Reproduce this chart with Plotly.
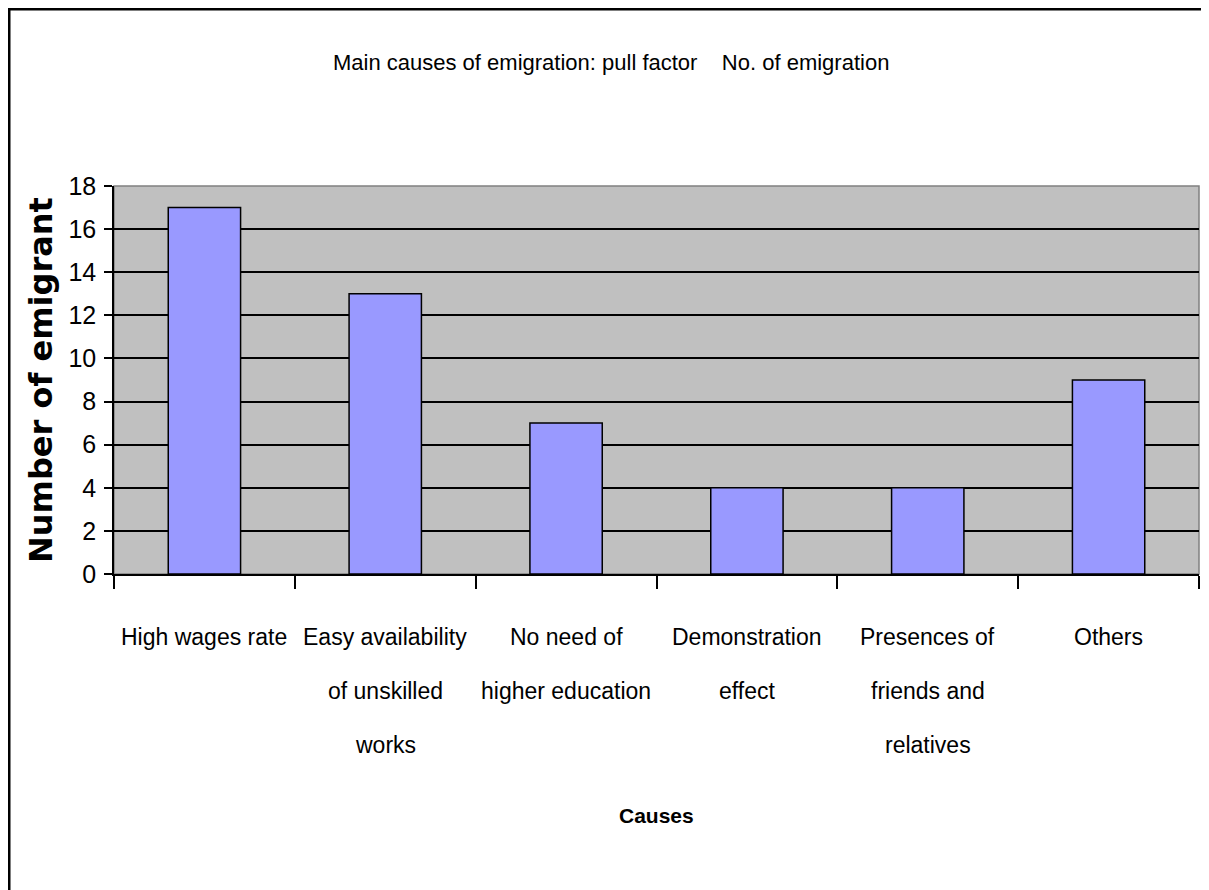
import plotly.graph_objects as go

# data
CAUSES = [
    "High wages rate",
    "Easy availability of unskilled works",
    "No need of higher education",
    "Demonstration effect",
    "Presences of friends and relatives",
    "Others",
]
LABEL_LINES = [
    ["High wages rate"],
    ["Easy availability", "of unskilled", "works"],
    ["No need of", "higher education"],
    ["Demonstration", "effect"],
    ["Presences of", "friends and", "relatives"],
    ["Others"],
]
EMIGRANTS = [17, 13, 7, 4, 4, 9]
Y_TICKS = list(range(0, 19, 2))

TITLE = "Main causes of emigration: pull factor    No. of emigration"
X_TITLE = "Causes"
Y_TITLE = "Number of emigrant"

FONT = "Liberation Sans, Arial, sans-serif"
BAR_COLOR = "#9999FF"
PLOT_BG = "#C0C0C0"

# the page body adds an 8px margin, so the figure is a little smaller
W, H = 1201, 882
M = dict(l=106, r=10, t=178, b=316)
PW = W - M["l"] - M["r"]
PH = H - M["t"] - M["b"]

fig = go.Figure()

fig.add_trace(go.Bar(
    x=CAUSES,
    y=EMIGRANTS,
    width=0.4,
    marker=dict(color=BAR_COLOR, line=dict(color="black", width=1.5)),
    hoverinfo="x+y",
))

# category labels, one annotation per line (Excel-style wide line spacing)
for cat, lines in zip(CAUSES, LABEL_LINES):
    for i, line in enumerate(lines):
        fig.add_annotation(
            x=cat, xref="x", y=0, yref="paper",
            text=line, showarrow=False,
            yanchor="middle", yshift=-(63 + 54 * i),
            font=dict(family=FONT, size=23, color="black"),
        )

# axis titles and chart title
fig.add_annotation(
    x=0.5, xref="paper", y=0, yref="paper", yshift=-241,
    text=f"<b>{X_TITLE}</b>", showarrow=False, yanchor="middle",
    font=dict(family=FONT, size=21, color="black"),
)
fig.add_annotation(
    x=0, xref="paper", xshift=-73, y=0.5, yref="paper",
    text=f"<b>{Y_TITLE}</b>", showarrow=False, textangle=-90,
    xanchor="center", yanchor="middle",
    font=dict(family="DejaVu Sans", size=32, color="black"),
)
fig.add_annotation(
    x=(603 - M["l"]) / PW, xref="paper", y=1, yref="paper", yshift=(M["t"] - 54),
    text=TITLE, showarrow=False, yanchor="middle",
    font=dict(family=FONT, size=22, color="black"),
)

# plot-area frame (grey top/right) and outer chart border
fig.add_shape(type="rect", xref="paper", yref="paper", x0=0, y0=0, x1=1, y1=1,
              line=dict(color="#808080", width=1.5), layer="below")
fig.add_shape(type="rect", xref="paper", yref="paper",
              x0=(1 - M["l"]) / PW, x1=(W + 20 - M["l"]) / PW,
              y0=-(H + 20 - M["t"] - PH) / PH, y1=(M["t"] - 1 + PH) / PH,
              line=dict(color="black", width=3))

fig.update_layout(
    width=W, height=H,
    margin=M,
    paper_bgcolor="white",
    plot_bgcolor=PLOT_BG,
    showlegend=False,
    xaxis=dict(
        showticklabels=False,
        ticks="outside", ticklen=13, tickwidth=1.5, tickcolor="black",
        tickson="boundaries",
        showgrid=False,
        showline=True, linecolor="black", linewidth=1.5,
    ),
    yaxis=dict(
        range=[0, 18],
        tickvals=Y_TICKS,
        ticks="outside", ticklen=8, tickwidth=1.5, tickcolor="black",
        ticklabelstandoff=3,
        tickfont=dict(family=FONT, size=25, color="black"),
        showgrid=True, gridcolor="black", gridwidth=1.5,
        zeroline=False,
        showline=True, linecolor="black", linewidth=1.5,
    ),
)

fig.write_html("out.html")
